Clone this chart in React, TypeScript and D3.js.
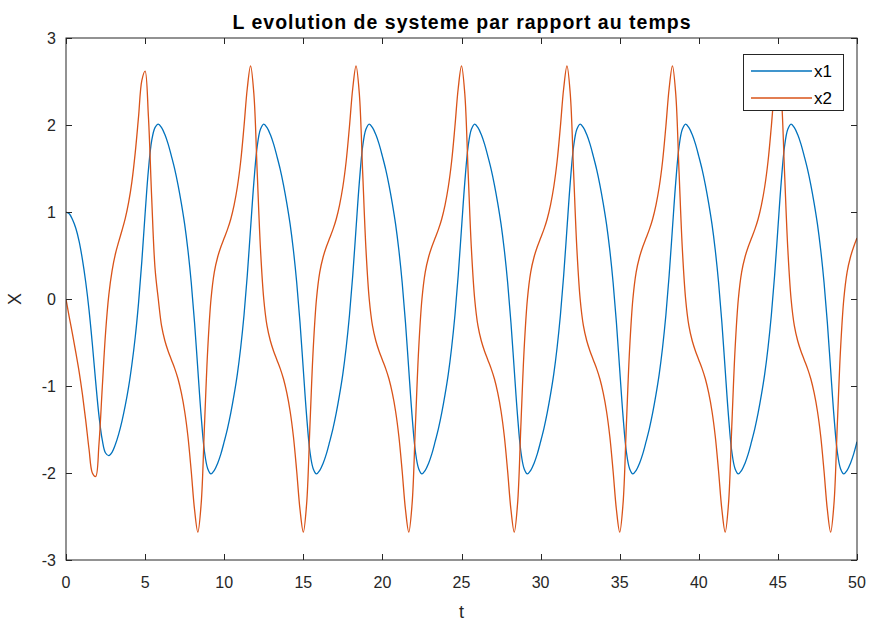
import * as React from 'react';
import * as d3 from "d3";

const x1Values = [
    1.00, 0.98, 0.91, 0.81, 0.66, 0.45, 0.19, -0.13, -0.52, -0.95, -1.34, -1.62, -1.77, -1.80,
    -1.76, -1.67, -1.55, -1.40, -1.22, -1.01, -0.75, -0.44, -0.05, 0.43, 0.98, 1.48, 1.82, 1.97,
    2.01, 1.97, 1.89, 1.78, 1.64, 1.49, 1.31, 1.10, 0.86, 0.56, 0.19, -0.27, -0.81, -1.34, -1.75, -1.95,
    -2.01, -1.97, -1.89, -1.78, -1.64, -1.49, -1.31, -1.10, -0.86, -0.56, -0.19, 0.27, 0.81, 1.34, 1.75, 1.95,
    2.01, 1.97, 1.89, 1.78, 1.64, 1.49, 1.31, 1.10, 0.86, 0.56, 0.19, -0.27, -0.81, -1.34, -1.75, -1.95,
    -2.01, -1.97, -1.89, -1.78, -1.64, -1.49, -1.31, -1.10, -0.86, -0.56, -0.19, 0.27, 0.81, 1.34, 1.75, 1.95,
    2.01, 1.97, 1.89, 1.78, 1.64, 1.49, 1.31, 1.10, 0.86, 0.56, 0.19, -0.27, -0.81, -1.34, -1.75, -1.95,
    -2.01, -1.97, -1.89, -1.78, -1.64, -1.49, -1.31, -1.10, -0.86, -0.56, -0.19, 0.27, 0.81, 1.34, 1.75, 1.95,
    2.01, 1.97, 1.89, 1.78, 1.64, 1.49, 1.31, 1.10, 0.86, 0.56, 0.19, -0.27, -0.81, -1.34, -1.75, -1.95,
    -2.01, -1.97, -1.89, -1.78, -1.64, -1.49, -1.31, -1.10, -0.86, -0.56, -0.19, 0.27, 0.81, 1.34, 1.75, 1.95,
    2.01, 1.97, 1.89, 1.78, 1.64, 1.49, 1.31, 1.10, 0.86, 0.56, 0.19, -0.27, -0.81, -1.34, -1.75, -1.95,
    -2.01, -1.97, -1.89, -1.78, -1.64, -1.49, -1.31, -1.10, -0.86, -0.56, -0.19, 0.27, 0.81, 1.34, 1.75, 1.95,
    2.01, 1.97, 1.89, 1.78, 1.64, 1.49, 1.31, 1.10, 0.86, 0.56, 0.19, -0.27, -0.81, -1.34, -1.75, -1.95,
    -2.01, -1.97, -1.89, -1.78, -1.64, -1.49, -1.31, -1.10, -0.86, -0.56, -0.19, 0.27, 0.81, 1.34, 1.75, 1.95,
    2.01, 1.97, 1.89, 1.78, 1.64, 1.49, 1.31, 1.10, 0.86, 0.56, 0.19, -0.27, -0.81, -1.34, -1.75, -1.95,
    -2.01, -1.97, -1.89, -1.78, -1.64
];

const x2Values = [
    0.00, -0.21, -0.41, -0.62, -0.84, -1.10, -1.40, -1.73, -2.00, -2.04, -1.67, -1.02, -0.39, 0.05,
    0.33, 0.52, 0.66, 0.79, 0.93, 1.11, 1.35, 1.68, 2.09, 2.51, 2.62, 2.10, 1.16, 0.36,
    0.00, -0.31, -0.48, -0.60, -0.70, -0.80, -0.92, -1.08, -1.29, -1.58, -1.98, -2.42, -2.68, -2.36, -1.47, -0.58,
    0.00, 0.31, 0.48, 0.60, 0.70, 0.80, 0.92, 1.08, 1.29, 1.58, 1.98, 2.42, 2.68, 2.36, 1.47, 0.58,
    0.00, -0.31, -0.48, -0.60, -0.70, -0.80, -0.92, -1.08, -1.29, -1.58, -1.98, -2.42, -2.68, -2.36, -1.47, -0.58,
    0.00, 0.31, 0.48, 0.60, 0.70, 0.80, 0.92, 1.08, 1.29, 1.58, 1.98, 2.42, 2.68, 2.36, 1.47, 0.58,
    0.00, -0.31, -0.48, -0.60, -0.70, -0.80, -0.92, -1.08, -1.29, -1.58, -1.98, -2.42, -2.68, -2.36, -1.47, -0.58,
    0.00, 0.31, 0.48, 0.60, 0.70, 0.80, 0.92, 1.08, 1.29, 1.58, 1.98, 2.42, 2.68, 2.36, 1.47, 0.58,
    0.00, -0.31, -0.48, -0.60, -0.70, -0.80, -0.92, -1.08, -1.29, -1.58, -1.98, -2.42, -2.68, -2.36, -1.47, -0.58,
    0.00, 0.31, 0.48, 0.60, 0.70, 0.80, 0.92, 1.08, 1.29, 1.58, 1.98, 2.42, 2.68, 2.36, 1.47, 0.58,
    0.00, -0.31, -0.48, -0.60, -0.70, -0.80, -0.92, -1.08, -1.29, -1.58, -1.98, -2.42, -2.68, -2.36, -1.47, -0.58,
    0.00, 0.31, 0.48, 0.60, 0.70, 0.80, 0.92, 1.08, 1.29, 1.58, 1.98, 2.42, 2.68, 2.36, 1.47, 0.58,
    0.00, -0.31, -0.48, -0.60, -0.70, -0.80, -0.92, -1.08, -1.29, -1.58, -1.98, -2.42, -2.68, -2.36, -1.47, -0.58,
    0.00, 0.31, 0.48, 0.60, 0.70, 0.80, 0.92, 1.08, 1.29, 1.58, 1.98, 2.42, 2.68, 2.36, 1.47, 0.58,
    0.00, -0.31, -0.48, -0.60, -0.70, -0.80, -0.92, -1.08, -1.29, -1.58, -1.98, -2.42, -2.68, -2.36, -1.47, -0.58,
    0.00, 0.31, 0.48, 0.60, 0.70
];

const timeValues = x1Values.map((_, i) => i * 50 / (x1Values.length - 1));

const xTicks = [0, 5, 10, 15, 20, 25, 30, 35, 40, 45, 50];
const yTicks = [-3, -2, -1, 0, 1, 2, 3];

const seriesNames = ["x1", "x2"];
const seriesColors = ["#0072BD", "#D95319"];

const titleText = "L evolution de systeme par rapport au temps";

interface Point {
    x: number;
    y: number;
}

const W = 872;
const H = 624;
const margin = { left: 66, right: 15, top: 38, bottom: 64 };
const axisColor = "#262626";
const font = "'Liberation Sans', Arial, sans-serif";

export default class App extends React.Component {

    render() {
        const scaleX = d3.scaleLinear().domain([0, 50]).range([margin.left, W - margin.right]);
        const scaleY = d3.scaleLinear().domain([-3, 3]).range([H - margin.bottom, margin.top]);

        const line = d3.line<Point>()
            .curve(d3.curveCatmullRom.alpha(0.5))
            .x(p => scaleX(p.x))
            .y(p => scaleY(p.y));

        const series = [x1Values, x2Values].map(vals => vals.map((v, i) => ({ x: timeValues[i], y: v })));

        const [x0, x1] = scaleX.range();
        const [y0, y1] = scaleY.range();
        const tickLen = 6;

        return (
            <svg width={W} height={H} style={{ position: "absolute", left: 0, top: 0, background: "#fff" }}
                fontFamily={font}>
                <defs>
                    <clipPath id="plot-clip">
                        <rect x={x0} y={y1} width={x1 - x0} height={y0 - y1} />
                    </clipPath>
                </defs>

                <g clipPath="url(#plot-clip)">
                    {series.map((s, i) =>
                        <path key={i} d={line(s) || undefined} fill="none"
                            stroke={seriesColors[i]} strokeWidth={1.3} strokeLinejoin="round" />
                    )}
                </g>

                {/* box and ticks on every side */}
                <rect x={x0} y={y1} width={x1 - x0} height={y0 - y1} fill="none" stroke={axisColor} strokeWidth={1} />
                {xTicks.map(t => {
                    const px = Math.round(scaleX(t)) + 0.5;
                    return (
                        <g key={"xt" + t}>
                            <line x1={px} x2={px} y1={y0} y2={y0 - tickLen} stroke={axisColor} />
                            <line x1={px} x2={px} y1={y1} y2={y1 + tickLen} stroke={axisColor} />
                            <text x={scaleX(t)} y={y0 + 28} textAnchor="middle" fontSize={16} fill={axisColor}>{t}</text>
                        </g>
                    );
                })}
                {yTicks.map(t => {
                    const py = Math.round(scaleY(t)) + 0.5;
                    return (
                        <g key={"yt" + t}>
                            <line x1={x0} x2={x0 + tickLen} y1={py} y2={py} stroke={axisColor} />
                            <line x1={x1} x2={x1 - tickLen} y1={py} y2={py} stroke={axisColor} />
                            <text x={x0 - 10} y={scaleY(t) + 6} textAnchor="end" fontSize={16} fill={axisColor}>{t}</text>
                        </g>
                    );
                })}

                <text x={(x0 + x1) / 2} y={29} textAnchor="middle" fontSize={19.5} fontWeight="bold"
                    textLength={458} lengthAdjust="spacing" fill="#000">{titleText}</text>
                <text x={(x0 + x1) / 2} y={H - 6} textAnchor="middle" fontSize={18} fill={axisColor}>t</text>
                <text transform={`translate(21,${scaleY(0)}) rotate(-90)`} textAnchor="middle" fontSize={18}
                    fill={axisColor}>X</text>

                {this.renderLegend()}
            </svg>
        );
    }

    renderLegend() {
        const lx = 743, ly = 54, lw = 100, lh = 56;
        return (
            <g>
                <rect x={lx + 0.5} y={ly + 0.5} width={lw} height={lh} fill="#fff" stroke={axisColor} strokeWidth={1} />
                {seriesNames.map((name, i) => {
                    const yy = ly + 17 + i * 27;
                    return (
                        <g key={name}>
                            <line x1={lx + 8} x2={lx + 69} y1={yy} y2={yy} stroke={seriesColors[i]} strokeWidth={1.3} />
                            <text x={lx + 71} y={yy + 6} fontSize={17} fill="#000">{name}</text>
                        </g>
                    );
                })}
            </g>
        );
    }
}
